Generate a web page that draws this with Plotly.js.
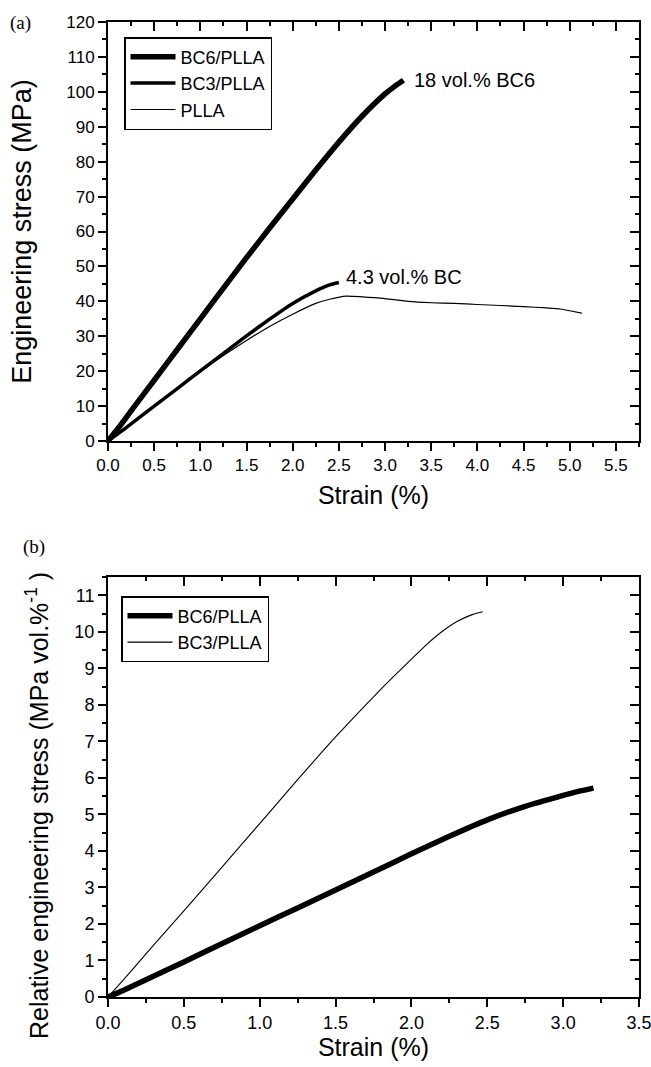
<!DOCTYPE html>
<html>
<head>
<meta charset="utf-8">
<script src="https://cdn.plot.ly/plotly-3.0.1.min.js"></script>
<style>html,body{margin:0;padding:0;background:#fff;}</style>
</head>
<body>
<div id="chart" style="width:651px;height:1067px;"></div>
<script>
// ---------- Panel (a): engineering stress vs strain ----------
const bc6Strain = [0, 0.1, 0.25, 0.5, 0.75, 1.0, 1.25, 1.5, 1.75, 2.0, 2.25, 2.5, 2.75, 3.0, 3.1, 3.2];
const bc6Stress = [0, 3.3, 8.6, 17.4, 26.2, 35.0, 43.8, 52.5, 61.0, 69.3, 77.6, 85.6, 93.0, 99.4, 101.5, 103.3];

const bc3Strain = [0, 0.1, 0.25, 0.5, 0.75, 1.0, 1.25, 1.5, 1.75, 2.0, 2.25, 2.4, 2.5];
const bc3Stress = [0, 1.9, 4.9, 10.0, 15.0, 20.1, 25.1, 30.1, 34.9, 39.4, 43.0, 44.7, 45.4];

const pllaStrain = [0, 0.1, 0.25, 0.5, 0.75, 1.0, 1.25, 1.5, 1.75, 2.0, 2.25, 2.4, 2.58, 2.75, 3.0, 3.25, 3.5, 3.75, 4.0, 4.25, 4.5, 4.75, 4.9, 5.0, 5.13];
const pllaStress = [0, 1.9, 4.9, 10.0, 15.0, 19.9, 24.5, 28.8, 32.8, 36.3, 39.4, 40.6, 41.5, 41.3, 40.8, 40.0, 39.6, 39.4, 39.1, 38.8, 38.5, 38.1, 37.8, 37.3, 36.6];

const xTicksA = [0, 0.5, 1.0, 1.5, 2.0, 2.5, 3.0, 3.5, 4.0, 4.5, 5.0, 5.5];
const yTicksA = [0, 10, 20, 30, 40, 50, 60, 70, 80, 90, 100, 110, 120];

// ---------- Panel (b): relative engineering stress vs strain ----------
const relBc6Strain = [0, 0.1, 0.25, 0.5, 0.75, 1.0, 1.25, 1.5, 1.75, 2.0, 2.25, 2.5, 2.75, 3.0, 3.1, 3.2];
const relBc6Stress = [0, 0.18, 0.47, 0.96, 1.46, 1.95, 2.44, 2.93, 3.42, 3.92, 4.40, 4.85, 5.22, 5.52, 5.63, 5.72];

const relBc3Strain = [0, 0.1, 0.25, 0.5, 0.75, 1.0, 1.25, 1.5, 1.75, 1.9, 2.0, 2.1, 2.2, 2.3, 2.4, 2.47];
const relBc3Stress = [0, 0.46, 1.18, 2.36, 3.55, 4.75, 5.95, 7.12, 8.22, 8.85, 9.25, 9.65, 10.0, 10.28, 10.47, 10.55];

const xTicksB = [0, 0.5, 1.0, 1.5, 2.0, 2.5, 3.0, 3.5];
const yTicksB = [0, 1, 2, 3, 4, 5, 6, 7, 8, 9, 10, 11];

const seriesNamesA = ['BC6/PLLA', 'BC3/PLLA', 'PLLA'];
const seriesNamesB = ['BC6/PLLA', 'BC3/PLLA'];

const FONT = 'Liberation Sans, Arial, Helvetica, sans-serif';
const SERIF = 'Liberation Serif, Times New Roman, serif';

// invisible copies that keep the mirrored frame axes (top / right, inside ticks) active
function ghost(x, y, xa, ya) {
  return {x: x, y: y, xaxis: xa, yaxis: ya, mode: 'lines', line: {width: 0, color: 'rgba(0,0,0,0)'},
          showlegend: false, hoverinfo: 'skip'};
}

const traces = [
  {x: bc6Strain, y: bc6Stress, name: seriesNamesA[0], mode: 'lines', xaxis: 'x', yaxis: 'y',
   line: {color: '#000', width: 5.5, shape: 'spline', smoothing: 0.5}, legend: 'legend'},
  {x: bc3Strain, y: bc3Stress, name: seriesNamesA[1], mode: 'lines', xaxis: 'x', yaxis: 'y',
   line: {color: '#000', width: 3.5, shape: 'spline', smoothing: 0.5}, legend: 'legend'},
  {x: pllaStrain, y: pllaStress, name: seriesNamesA[2], mode: 'lines', xaxis: 'x', yaxis: 'y',
   line: {color: '#000', width: 1.2, shape: 'spline', smoothing: 0.5}, legend: 'legend'},
  {x: relBc6Strain, y: relBc6Stress, name: seriesNamesB[0], mode: 'lines', xaxis: 'x2', yaxis: 'y2',
   line: {color: '#000', width: 5.5, shape: 'spline', smoothing: 0.5}, legend: 'legend2'},
  {x: relBc3Strain, y: relBc3Stress, name: seriesNamesB[1], mode: 'lines', xaxis: 'x2', yaxis: 'y2',
   line: {color: '#000', width: 1.1, shape: 'spline', smoothing: 0.5}, legend: 'legend2'},
  ghost(pllaStrain, pllaStress, 'x3', 'y'),
  ghost(pllaStrain, pllaStress, 'x', 'y3'),
  ghost(relBc6Strain, relBc6Stress, 'x4', 'y2'),
  ghost(relBc6Strain, relBc6Stress, 'x2', 'y4')
];

const xDom = [108 / 651, 639 / 651];
const yDomA = [1 - 441 / 1067, 1 - 22 / 1067];
const yDomB = [1 - 997 / 1067, 1 - 577 / 1067];
const xRangeA = [0, 5.75];
const yRangeA = [0, 120];
const xRangeB = [0, 3.5];
const yRangeB = [0, 11.5];

function baseAxis(extra) {
  return Object.assign({
    showgrid: false, zeroline: false, showline: true, linecolor: '#000', linewidth: 2,
    ticks: 'outside', ticklen: 8, tickwidth: 2, tickcolor: '#000',
    tickfont: {family: FONT, size: 17, color: '#000'},
    ticklabeloverflow: 'allow', layer: 'above traces',
    fixedrange: true
  }, extra);
}

const layout = {
  width: 651, height: 1067,
  margin: {l: 0, r: 0, t: 0, b: 0},
  paper_bgcolor: '#fff', plot_bgcolor: 'rgba(0,0,0,0)',
  font: {family: FONT, color: '#000'},
  showlegend: true,
  xaxis: baseAxis({domain: xDom, anchor: 'y', range: xRangeA, tickmode: 'array', tickvals: xTicksA,
    ticktext: xTicksA.map(v => v.toFixed(1)),
    minor: {ticks: 'outside', ticklen: 4, tickwidth: 2, dtick: 0.25, tick0: 0, tickcolor: '#000'},
    title: {text: 'Strain (%)', font: {family: FONT, size: 25, color: '#000'}, standoff: 12}}),
  yaxis: baseAxis({domain: yDomA, anchor: 'x', range: yRangeA, tickmode: 'array', tickvals: yTicksA,
    minor: {ticks: 'outside', ticklen: 4, tickwidth: 2, dtick: 5, tick0: 0, tickcolor: '#000'},
    title: {text: 'Engineering stress (MPa)', font: {family: FONT, size: 27, color: '#000'}, standoff: 27}}),
  xaxis3: baseAxis({overlaying: 'x', anchor: 'y', side: 'top', range: xRangeA, tickmode: 'array', tickvals: xTicksA,
    ticks: 'inside', ticklen: 9, showticklabels: false,
    minor: {ticks: 'inside', ticklen: 4, tickwidth: 2, dtick: 0.25, tick0: 0, tickcolor: '#000'}}),
  yaxis3: baseAxis({overlaying: 'y', anchor: 'x', side: 'right', range: yRangeA, tickmode: 'array', tickvals: yTicksA,
    ticks: 'inside', ticklen: 9, showticklabels: false,
    minor: {ticks: 'inside', ticklen: 4, tickwidth: 2, dtick: 5, tick0: 0, tickcolor: '#000'}}),

  xaxis2: baseAxis({domain: xDom, anchor: 'y2', range: xRangeB, tickmode: 'array', tickvals: xTicksB,
    ticktext: xTicksB.map(v => v.toFixed(1)), tickfont: {family: FONT, size: 18, color: '#000'},
    minor: {ticks: 'outside', ticklen: 4, tickwidth: 2, dtick: 0.25, tick0: 0, tickcolor: '#000'},
    title: {text: 'Strain (%)', font: {family: FONT, size: 25, color: '#000'}, standoff: 3}}),
  yaxis2: baseAxis({domain: yDomB, anchor: 'x2', range: yRangeB, tickmode: 'array', tickvals: yTicksB,
    tickfont: {family: FONT, size: 18, color: '#000'},
    minor: {ticks: 'outside', ticklen: 4, tickwidth: 2, dtick: 0.5, tick0: 0, tickcolor: '#000'}}),
  xaxis4: baseAxis({overlaying: 'x2', anchor: 'y2', side: 'top', range: xRangeB, tickmode: 'array', tickvals: xTicksB,
    ticks: 'inside', ticklen: 9, showticklabels: false,
    minor: {ticks: 'inside', ticklen: 4, tickwidth: 2, dtick: 0.25, tick0: 0, tickcolor: '#000'}}),
  yaxis4: baseAxis({overlaying: 'y2', anchor: 'x2', side: 'right', range: yRangeB, tickmode: 'array', tickvals: yTicksB,
    ticks: 'inside', ticklen: 9, showticklabels: false,
    minor: {ticks: 'inside', ticklen: 4, tickwidth: 2, dtick: 0.5, tick0: 0, tickcolor: '#000'}}),

  legend: {x: 124 / 651, y: 1 - 37 / 1067, xanchor: 'left', yanchor: 'top', bgcolor: '#fff',
    bordercolor: '#000', borderwidth: 1.5, font: {family: FONT, size: 18, color: '#000'},
    itemwidth: 45, tracegroupgap: 0},
  legend2: {x: 121 / 651, y: 1 - 596 / 1067, xanchor: 'left', yanchor: 'top', bgcolor: '#fff',
    bordercolor: '#000', borderwidth: 1.5, font: {family: FONT, size: 18, color: '#000'},
    itemwidth: 45, tracegroupgap: 0},

  annotations: [
    {text: '(a)', xref: 'paper', yref: 'paper', x: 8 / 651, y: 1 - 23 / 1067, xanchor: 'left', yanchor: 'middle',
     showarrow: false, font: {family: SERIF, size: 19, color: '#000'}},
    {text: '(b)', xref: 'paper', yref: 'paper', x: 21 / 651, y: 1 - 547 / 1067, xanchor: 'left', yanchor: 'middle',
     showarrow: false, font: {family: SERIF, size: 19, color: '#000'}},
    {text: 'Relative engineering stress (MPa vol.%<sup>-1</sup> )', xref: 'paper', yref: 'paper',
     x: 37 / 651, y: 1 - 806 / 1067, xanchor: 'center', yanchor: 'middle', textangle: -90,
     showarrow: false, font: {family: FONT, size: 25, color: '#000'}},
    {text: '18 vol.% BC6', xref: 'x', yref: 'y', x: 3.29, y: 103.4, xanchor: 'left', yanchor: 'middle',
     showarrow: false, font: {family: FONT, size: 20, color: '#000'}},
    {text: '4.3 vol.% BC', xref: 'x', yref: 'y', x: 2.56, y: 47.0, xanchor: 'left', yanchor: 'middle',
     showarrow: false, font: {family: FONT, size: 20, color: '#000'}}
  ]
};

Plotly.newPlot('chart', traces, layout, {displayModeBar: false, staticPlot: true});
</script>
</body>
</html>
